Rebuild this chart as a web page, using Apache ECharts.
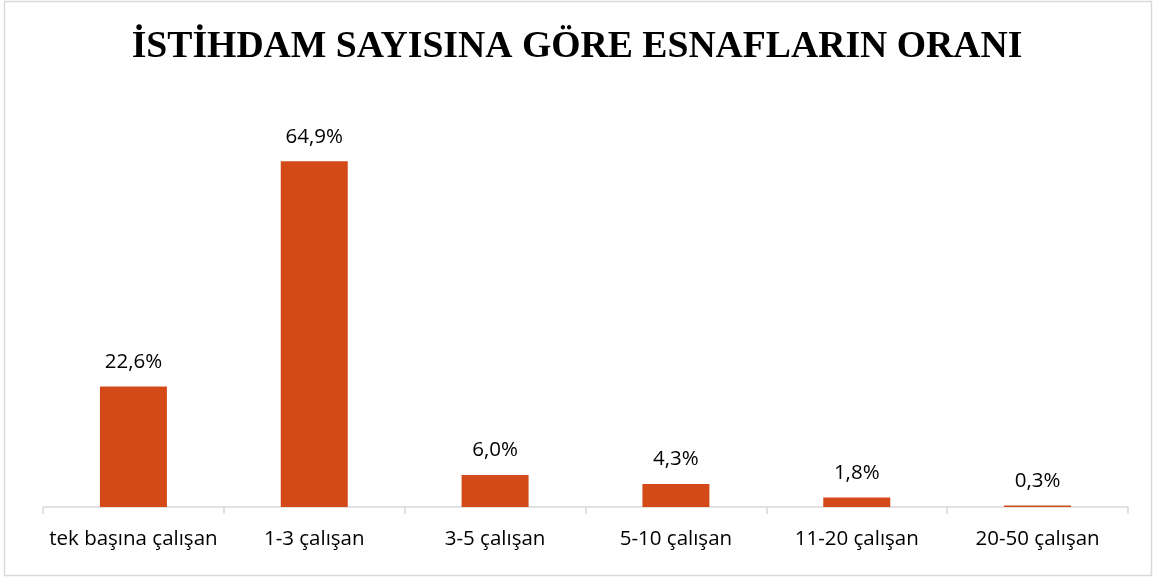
<!DOCTYPE html>
<html><head><meta charset="utf-8">
<script src="https://cdn.jsdelivr.net/npm/echarts@6/dist/echarts.min.js"></script>
<style>html,body{margin:0;padding:0;background:#fff}#c{width:1154px;height:577px}</style>
</head><body><div id="c"></div>
<script>
const categories = ['tek başına çalışan', '1-3 çalışan', '3-5 çalışan', '5-10 çalışan', '11-20 çalışan', '20-50 çalışan'];
const values = [22.6, 64.9, 6.0, 4.3, 1.8, 0.3];
const titleText = 'İSTİHDAM SAYISINA GÖRE ESNAFLARIN ORANI';

const chart = echarts.init(document.getElementById('c'));
chart.setOption({
  animation: false,
  backgroundColor: '#fff',
  title: {
    text: titleText, left: 'center', top: 23,
    textStyle: { fontFamily: 'Liberation Serif', fontWeight: 'bold', fontSize: 37.7, color: '#000' }
  },
  graphic: [{
    type: 'rect', silent: true,
    shape: { x: 4.5, y: 1.5, width: 1147, height: 574 },
    style: { fill: 'none', stroke: '#d9d9d9', lineWidth: 1.5 }
  }],
  grid: { left: 43, right: 26, top: 134, bottom: 70 },
  xAxis: {
    type: 'category', data: categories,
    axisLine: { lineStyle: { color: '#d9d9d9', width: 1.5 } },
    axisTick: { show: true, length: 7, lineStyle: { color: '#d9d9d9', width: 1.5 } },
    axisLabel: { margin: 22, fontFamily: 'Open Sans', fontSize: 20.5, color: '#000', interval: 0 }
  },
  yAxis: { type: 'value', min: 0, max: 70, show: false, splitLine: { show: false } },
  series: [{
    type: 'bar', data: values, barWidth: 67,
    itemStyle: { color: '#D34A18' },
    label: {
      show: true, position: 'top', distance: 14,
      fontFamily: 'Open Sans', fontSize: 20.5, color: '#000',
      formatter: p => p.value.toFixed(1).replace('.', ',') + '%'
    }
  }]
});
</script></body></html>
